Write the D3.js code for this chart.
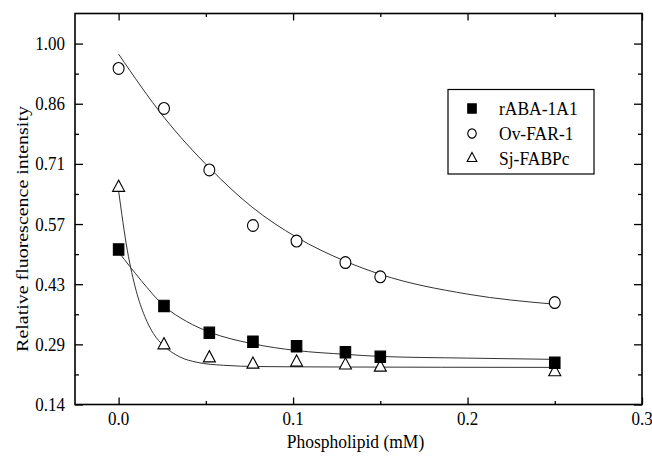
<!DOCTYPE html>
<html>
<head>
<meta charset="utf-8">
<script src="https://cdn.jsdelivr.net/npm/d3@7/dist/d3.min.js"></script>
<style>
  html, body { margin: 0; padding: 0; background: #fff; }
  svg { display: block; }
  text { font-family: "Liberation Serif", "Times New Roman", serif; fill: #000; }
</style>
</head>
<body>
<svg id="chart" width="652" height="460"></svg>
<script>
// ---- data ----
const xValues   = [0, 0.026, 0.052, 0.077, 0.102, 0.13, 0.15, 0.25];
const rABA      = [0.511, 0.377, 0.313, 0.292, 0.281, 0.267, 0.256, 0.242];
const ovFAR     = [0.941, 0.846, 0.700, 0.568, 0.531, 0.480, 0.446, 0.385];
const sjFABP    = [0.658, 0.284, 0.253, 0.238, 0.243, 0.236, 0.231, 0.220];

// fitted curves, points
const fitX_rABA = [0, 0.013, 0.026, 0.039, 0.052, 0.077, 0.102, 0.13, 0.15, 0.2, 0.25];
const fitY_rABA = [0.505, 0.437, 0.377, 0.340, 0.315, 0.287, 0.271, 0.262, 0.257, 0.253, 0.250];
const fitX_ov   = [0, 0.026, 0.052, 0.077, 0.102, 0.13, 0.15, 0.2, 0.25];
const fitY_ov   = [0.975, 0.825, 0.705, 0.610, 0.540, 0.483, 0.452, 0.405, 0.381];
const fitX_sj   = [0, 0.005, 0.01, 0.015, 0.02, 0.026, 0.035, 0.045, 0.06, 0.08, 0.12, 0.25];
const fitY_sj   = [0.650, 0.509, 0.414, 0.352, 0.311, 0.282, 0.256, 0.243, 0.236, 0.233, 0.232, 0.231];

const seriesNames = ["rABA-1A1", "Ov-FAR-1", "Sj-FABPc"];
const xTickValues = [0, 0.1, 0.2, 0.3];
const xMinorTicks = [0.05, 0.15, 0.25];
const yTickValues = [1/7, 2/7, 3/7, 4/7, 5/7, 6/7, 1];
const yMinorTicks = [1.5/7, 2.5/7, 3.5/7, 4.5/7, 5.5/7, 6.5/7];
const xTitle = "Phospholipid (mM)";
const yTitle = "Relative fluorescence intensity";

// ---- layout ----
const L = 75, R = 642, T = 13.5, B = 404.5;
const SY = 1.12; // vertical stretch of the reference lettering
const svg = d3.select("#chart");
const x = d3.scaleLinear().domain([-0.025, 0.3]).range([L, R]);
const y = d3.scaleLinear().domain([1/7, 7.5/7]).range([B, T]);
const fmtX = d3.format(".1f"), fmtY = d3.format(".2f");

function tickGroup(axis, tx, ty, vals, size) {
  svg.append("g").attr("transform", `translate(${tx},${ty})`)
    .call(axis.tickValues(vals).tickSize(size).tickFormat(""));
}
// inward ticks on all four sides
tickGroup(d3.axisBottom(x), 0, B, xTickValues, -7);
tickGroup(d3.axisBottom(x), 0, B, xMinorTicks, -3.5);
tickGroup(d3.axisTop(x), 0, T, xTickValues, -7);
tickGroup(d3.axisTop(x), 0, T, xMinorTicks, -3.5);
tickGroup(d3.axisLeft(y), L, 0, yTickValues, -8);
tickGroup(d3.axisLeft(y), L, 0, yMinorTicks, -4);
tickGroup(d3.axisRight(y), R, 0, yTickValues, -8);
tickGroup(d3.axisRight(y), R, 0, yMinorTicks, -4);
svg.selectAll(".domain").remove();
svg.selectAll(".tick line").attr("stroke", "#000").attr("stroke-width", 1.3);
svg.selectAll(".tick text").remove();

// tick labels (stretched vertically like the reference)
function label(xp, yp, txt, anchor, size) {
  return svg.append("text")
    .attr("transform", `translate(${xp},${yp}) scale(1,${SY})`)
    .attr("text-anchor", anchor).style("font-size", size + "px").text(txt);
}
xTickValues.forEach(v => label(x(v), 425, fmtX(v), "middle", 17));
yTickValues.forEach(v => label(65, y(v) + 6.5, fmtY(v), "end", 17));

// frame
svg.append("rect").attr("x", L).attr("y", T).attr("width", R - L).attr("height", B - T)
  .attr("fill", "none").attr("stroke", "#000").attr("stroke-width", 1.6);

// axis titles
label((L + R) / 2 - 3, 448, xTitle, "middle", 17.5);
svg.append("text")
  .attr("transform", `translate(28,229) rotate(-90) scale(1.14,1)`)
  .attr("text-anchor", "middle").style("font-size", "17.5px").text(yTitle);

// fit curves
const line = d3.line().x(d => x(d[0])).y(d => y(d[1])).curve(d3.curveMonotoneX);
const fits = [[fitX_rABA, fitY_rABA], [fitX_ov, fitY_ov], [fitX_sj, fitY_sj]];
fits.forEach(([fx, fy]) => {
  svg.append("path").datum(fx.map((v, i) => [v, fy[i]]))
    .attr("d", line).attr("fill", "none").attr("stroke", "#333").attr("stroke-width", 1);
});

// markers
const symSquare = d3.symbol().type(d3.symbolSquare).size(110);
const symCircle = d3.symbol().type(d3.symbolCircle).size(Math.PI * 30);
const symTri = d3.symbol().type(d3.symbolTriangle).size(62);
const marks = [
  { vals: rABA, sym: symSquare, fill: "#000" },
  { vals: ovFAR, sym: symCircle, fill: "#fff" },
  { vals: sjFABP, sym: symTri, fill: "#fff" }
];
[marks[2], marks[0], marks[1]].forEach(m => {
  svg.append("g").selectAll("path").data(xValues.map((v, i) => [v, m.vals[i]]))
    .join("path")
    .attr("transform", d => `translate(${x(d[0])},${y(d[1])}) scale(1,1.08)`)
    .attr("d", m.sym())
    .attr("fill", m.fill).attr("stroke", "#000").attr("stroke-width", 1.1);
});

// legend
const lg = svg.append("g");
lg.append("rect").attr("x", 448).attr("y", 89.5).attr("width", 146).attr("height", 84.5)
  .attr("fill", "#fff").attr("stroke", "#000").attr("stroke-width", 1.2);
const legendSyms = [
  d3.symbol().type(d3.symbolSquare).size(72),
  d3.symbol().type(d3.symbolCircle).size(Math.PI * 18),
  d3.symbol().type(d3.symbolTriangle).size(40)
];
const legendFill = ["#000", "#fff", "#fff"];
seriesNames.forEach((name, i) => {
  const cy = 108.5 + i * 25;
  lg.append("path").attr("transform", `translate(472,${cy}) scale(1,1.08)`).attr("d", legendSyms[i]())
    .attr("fill", legendFill[i]).attr("stroke", "#000").attr("stroke-width", 1.1);
  label(499, cy + 6.5, name, "start", 17.5);
});
</script>
</body>
</html>
